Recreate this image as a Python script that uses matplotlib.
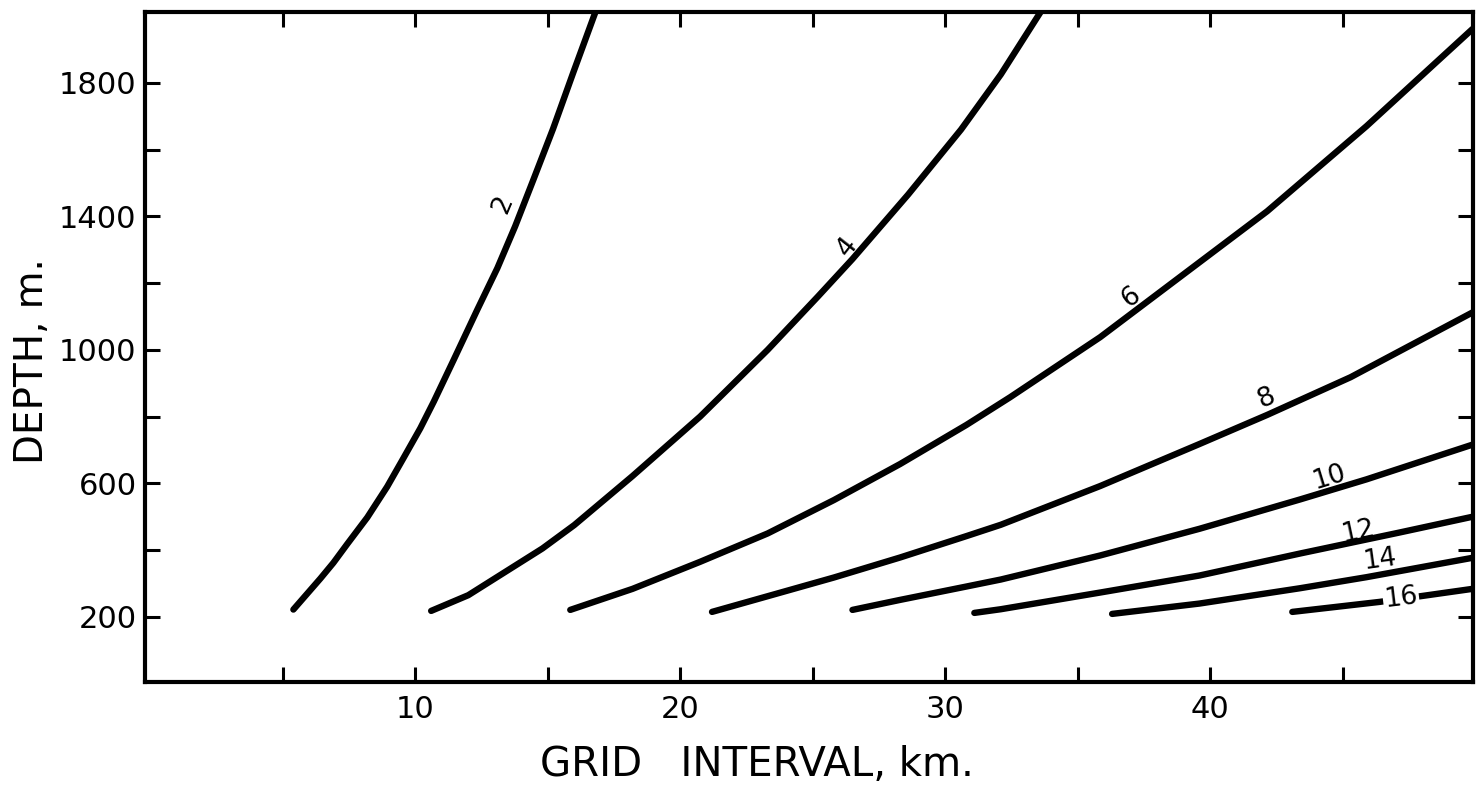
import numpy as np
import matplotlib
matplotlib.use('Agg')
import matplotlib.pyplot as plt

# curves: grid interval (km) vs depth (m), one per label
labels = ['2', '4', '6', '8', '10', '12', '14', '16']

x_2 = [5.4, 6.42, 6.91, 7.43, 8.19, 8.94, 9.55, 10.19, 10.7, 11.45, 12.34, 13.1, 13.77, 14.45, 15.2, 15.96, 16.8]
d_2 = [222, 315, 362, 418, 498, 590, 675, 765, 845, 970, 1120, 1245, 1370, 1508, 1662, 1830, 2012]

x_4 = [10.6, 12.0, 13.2, 14.8, 16.0, 18.2, 20.75, 23.3, 25.2, 26.5, 28.6, 30.6, 32.1, 33.6]
d_4 = [218, 265, 325, 405, 475, 622, 800, 1000, 1160, 1272, 1465, 1660, 1825, 2012]

x_6 = [15.85, 18.2, 20.75, 23.3, 25.8, 28.3, 30.8, 32.45, 35.85, 42.15, 45.9, 49.9]
d_6 = [221, 284, 365, 450, 550, 658, 775, 858, 1038, 1415, 1670, 1961]

x_8 = [21.2, 23.3, 25.8, 28.3, 30.8, 32.1, 35.85, 39.6, 42.15, 45.3, 49.9]
d_8 = [215, 262, 318, 378, 442, 476, 592, 718, 805, 918, 1112]

x_10 = [26.5, 28.3, 30.8, 32.1, 35.85, 39.6, 43.4, 45.9, 49.9]
d_10 = [221, 251, 291, 312, 384, 464, 552, 612, 716]

x_12 = [31.1, 32.1, 35.85, 39.6, 43.4, 47.1, 49.9]
d_12 = [212, 223, 273, 324, 390, 452, 500]

x_14 = [36.3, 39.6, 43.4, 45.9, 49.9]
d_14 = [209, 240, 286, 319, 377]

x_16 = [43.1, 46.4, 47.85, 49.9]
d_16 = [215, 245, 261, 284]

# where each curve's number sits, and its tilt
label_x = [13.3, 26.3, 37.0, 42.1, 44.5, 45.6, 46.4, 47.2]
label_d = [1436, 1309, 1156, 856, 619, 455, 371, 257]
label_rot = [67, 52, 36, 23, 17, 12, 8, 7]

xticks = [5, 10, 15, 20, 25, 30, 35, 40, 45]
xtick_labels = ['', '10', '', '20', '', '30', '', '40', '']
yticks = [200, 400, 600, 800, 1000, 1200, 1400, 1600, 1800]
ytick_labels = ['200', '', '600', '', '1000', '', '1400', '', '1800']

curves_x = [x_2, x_4, x_6, x_8, x_10, x_12, x_14, x_16]
curves_d = [d_2, d_4, d_6, d_8, d_10, d_12, d_14, d_16]

fig = plt.figure(figsize=(14.78, 7.92), dpi=100)
ax = fig.add_axes([145 / 1478., 1 - 682 / 792., 1328 / 1478., 670 / 792.])

for xs, ds in zip(curves_x, curves_d):
    ax.plot(xs, ds, color='black', lw=4.6, solid_capstyle='round', solid_joinstyle='round')

for i in range(len(labels)):
    t = ax.text(label_x[i], label_d[i], labels[i], fontsize=19, rotation=label_rot[i],
                rotation_mode='anchor', ha='center', va='center', zorder=5)
    if labels[i] == '16':
        t.set_bbox(dict(facecolor='white', edgecolor='none', pad=1))

ax.set_xlim(-0.2, 49.92)
ax.set_ylim(5, 2012)
ax.set_xticks(xticks)
ax.set_xticklabels(xtick_labels)
ax.set_yticks(yticks)
ax.set_yticklabels(ytick_labels)
ax.tick_params(direction='in', length=11, width=2.2, top=True, right=True, labelsize=22)
ax.tick_params(axis='x', pad=9)
ax.tick_params(axis='y', pad=6)
for s in ax.spines.values():
    s.set_linewidth(3)

fig.text(757 / 1478., 1 - 765 / 792., 'GRID   INTERVAL, km.', fontsize=29, ha='center', va='center')
fig.text(32 / 1478., 1 - 361 / 792., 'DEPTH, m.', fontsize=28, rotation=90, ha='center', va='center')

fig.savefig('out.png', dpi=100)
